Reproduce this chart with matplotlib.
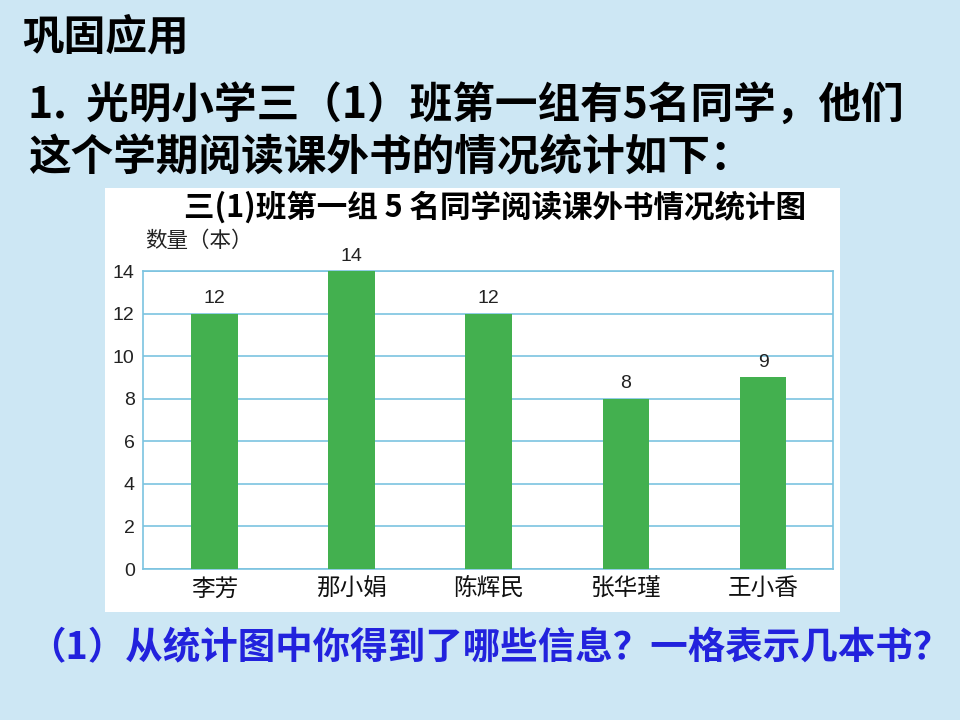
import numpy as np
import matplotlib.pyplot as plt
from matplotlib.patches import Rectangle

plt.rcParams['font.family'] = ['Noto Sans CJK SC', 'DejaVu Sans']

# data
names = ['李芳', '那小娟', '陈辉民', '张华瑾', '王小香']
books = [12, 14, 12, 8, 9]
y_ticks = [0, 2, 4, 6, 8, 10, 12, 14]

W, H = 960, 720
bg = '#cde7f4'
grid_c = '#7cc3e0'
bar_c = '#43b04f'


def fx(px):
    return px / W


def fy(py):
    return 1 - py / H


fig = plt.figure(figsize=(9.6, 7.2), dpi=100, facecolor=bg)

# white panel behind the chart
panel = fig.add_axes([0, 0, 1, 1], zorder=-1)
panel.set_axis_off()
panel.set_xlim(0, W)
panel.set_ylim(H, 0)
panel.add_patch(Rectangle((105, 188), 735, 424, facecolor='white', edgecolor='none'))

# slide text
fig.text(fx(22), fy(38), '巩固应用', fontsize=30, fontweight='bold',
         va='center', ha='left', color='black')
fig.text(fx(28), fy(105), '1.  光明小学三（1）班第一组有5名同学，他们',
         fontsize=30.7, fontweight='bold', va='center', ha='left', color='black')
fig.text(fx(28), fy(157), '这个学期阅读课外书的情况统计如下：',
         fontsize=30.7, fontweight='bold', va='center', ha='left', color='black')
fig.text(fx(28), fy(648), '（1）从统计图中你得到了哪些信息？一格表示几本书？',
         fontsize=27, fontweight='bold', va='center', ha='left', color='#2222dd')

# chart title and unit
fig.text(fx(495), fy(207), '三(1)班第一组 5 名同学阅读课外书情况统计图',
         fontsize=22, fontweight='bold', va='center', ha='center', color='black')
fig.text(fx(145), fy(241), '数量（本）', fontsize=15.5, va='center', ha='left',
         color='#222222')

ax = fig.add_axes([fx(143), fy(569), 690 / W, 298 / H])
ax.set_facecolor('white')
x = np.arange(len(names))
ax.bar(x, books, width=0.34, color=bar_c, zorder=3)
for xi, v in zip(x, books):
    ax.text(xi, v + 0.3, str(v), ha='center', va='bottom', fontsize=14,
            family=['Liberation Sans', 'DejaVu Sans'], color='#222222')

ax.set_xlim(-0.52, 4.51)
ax.set_ylim(0, 14)
ax.set_yticks(y_ticks)
ax.set_yticklabels([str(t) for t in y_ticks], fontsize=14,
                   family=['Liberation Sans', 'DejaVu Sans'], color='#222222')
ax.set_xticks(x)
ax.set_xticklabels(names, fontsize=17, color='#111111')
ax.tick_params(axis='both', length=0)
ax.tick_params(axis='y', pad=6)
ax.tick_params(axis='x', pad=6)
ax.grid(axis='y', color=grid_c, linewidth=1.2, zorder=1)
for s in ax.spines.values():
    s.set_color(grid_c)
    s.set_linewidth(1.2)

fig.savefig('out.png', dpi=100, facecolor=bg)
